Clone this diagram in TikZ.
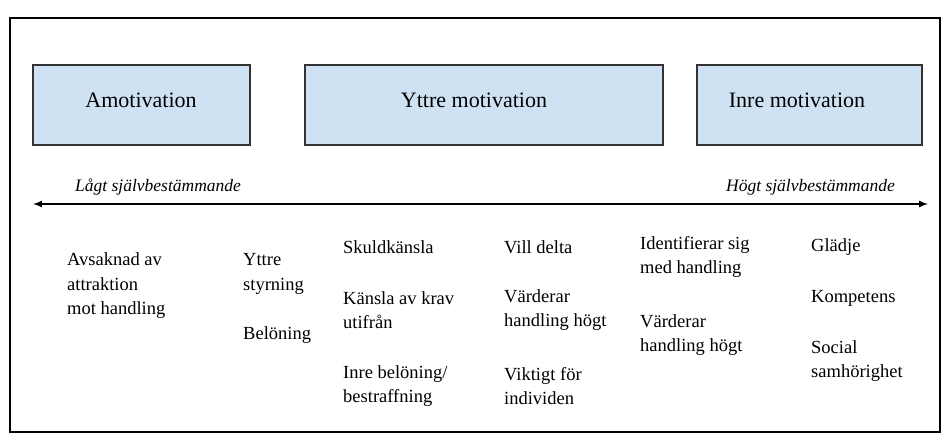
\documentclass[tikz,border=0pt]{standalone}
\usepackage{fontspec}
\setmainfont{Liberation Serif}
\definecolor{boxfill}{HTML}{CFE2F3}
\begin{document}
\begin{tikzpicture}[x=1pt,y=-1pt,
  box/.style={draw=black!80,fill=boxfill,line width=1.4pt},
  boxtext/.style={font=\fontsize{22}{26}\selectfont},
  lbl/.style={anchor=west,align=left,inner sep=0pt,font=\fontsize{18.5}{24.5}\selectfont},
  ends/.style={font=\fontsize{17.5}{20}\selectfont\itshape,inner sep=0pt}]
\useasboundingbox (0,0) rectangle (952,442);
\draw[line width=1.2pt] (10,18) rectangle (940,432);
\draw[box] (33,65) rectangle (250,145);
\draw[box] (305,65) rectangle (663,145);
\draw[box] (697,65) rectangle (922,145);
\node[boxtext] (a) at (141,100) {Amotivation};
\node[boxtext] (y) at (474,100) {Yttre motivation};
\node[boxtext] (i) at (797,100) {Inre motivation};
\coordinate (l) at (33,204);
\coordinate (r) at (928,204);
\draw[line width=2pt,<->,>=latex] (l) -- (r);
\node[ends,anchor=west] (lo) at (75,187) {Lågt självbestämmande};
\node[ends,anchor=east] (hi) at (895,187) {Högt självbestämmande};
\node[lbl] (c1) at (67,286) {Avsaknad av\\attraktion\\mot handling};
\node[lbl] (c2a) at (243,274) {Yttre\\styrning};
\node[lbl] (c2b) at (243,335) {Belöning};
\node[lbl] (c3a) at (343,247) {Skuldkänsla};
\node[lbl] (c3b) at (343,310) {Känsla av krav\\utifrån};
\node[lbl] (c3c) at (343,386) {Inre belöning/\\bestraffning};
\node[lbl] (c4a) at (504,247) {Vill delta};
\node[lbl] (c4b) at (504,310) {Värderar\\handling högt};
\node[lbl] (c4c) at (504,386) {Viktigt för\\individen};
\node[lbl] (c5a) at (640,257) {Identifierar sig\\med handling};
\node[lbl] (c5b) at (640,335) {Värderar\\handling högt};
\node[lbl] (c6a) at (811,247) {Glädje};
\node[lbl] (c6b) at (811,298) {Kompetens};
\node[lbl] (c6c) at (811,361) {Social\\samhörighet};
\end{tikzpicture}
\end{document}
